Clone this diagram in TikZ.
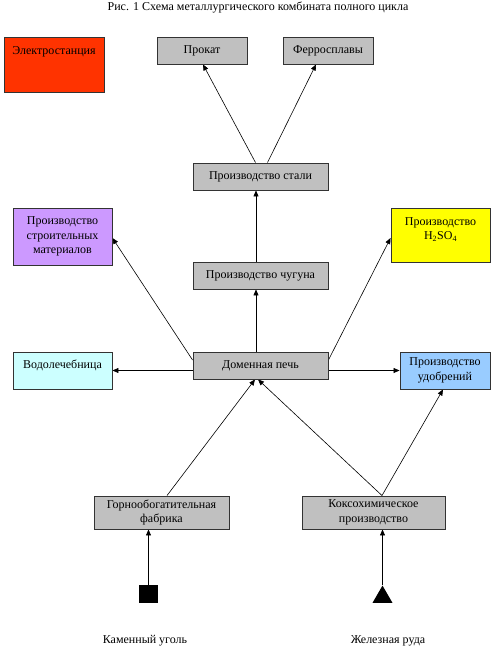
\documentclass[tikz,border=0pt]{standalone}
\usepackage{fontspec}
\setmainfont{Liberation Serif}
\usepackage{xcolor}
\usetikzlibrary{shapes.geometric,arrows.meta}
\definecolor{station}{HTML}{FF3300}
\definecolor{building}{HTML}{CC99FF}
\definecolor{acid}{HTML}{FFFF00}
\definecolor{spa}{HTML}{CCFFFF}
\definecolor{fertilizer}{HTML}{99CCFF}
\definecolor{process}{HTML}{C0C0C0}
\tikzstyle{box}=[fill=process, draw=black!80, line width=0.9pt, shape=rectangle, inner sep=0pt, align=center, font=\fontsize{12}{14.5}\selectfont]
\tikzstyle{inside}=[anchor=north, align=center, inner sep=0pt, yshift=-9.5pt, font=\fontsize{12}{14.5}\selectfont]
\tikzstyle{caption}=[font=\fontsize{12}{14}\selectfont, inner sep=0pt]
\tikzstyle{flow}=[-{Triangle[length=6pt, width=5pt]}, draw=black, line width=0.6pt]
\tikzstyle{coal}=[fill=black, shape=rectangle, minimum width=19, minimum height=18, inner sep=0pt]
\tikzstyle{ore}=[fill=black, shape=regular polygon, regular polygon sides=3, minimum size=23, inner sep=0pt]
\pgfdeclarelayer{nodelayer}
\pgfdeclarelayer{edgelayer}
\pgfsetlayers{edgelayer,nodelayer,main}
\begin{document}
\begin{tikzpicture}[x=1pt, y=-1pt]
	\useasboundingbox (0, 0) rectangle (497, 655);
	\begin{pgfonlayer}{nodelayer}
		\node [style=caption] (t) at (258, 8) {Рис. 1 Схема металлургического комбината полного цикла};
		\node [style=box, fill=station, minimum width=100, minimum height=55, label={[style=inside]north:Электростанция}] (0) at (54, 64.5) {};
		\node [style=box, minimum width=90, minimum height=27] (1) at (202, 50.5) {Прокат};
		\node [style=box, minimum width=90, minimum height=27] (2) at (328, 50.5) {Ферросплавы};
		\node [style=box, minimum width=135, minimum height=27] (3) at (260.5, 176.5) {Производство стали};
		\node [style=box, fill=building, minimum width=99, minimum height=57] (4) at (62.5, 236.5) {Производство\\строительных\\материалов};
		\node [style=box, fill=acid, minimum width=99, minimum height=54, label={[style=inside]north:Производство\\H\textsubscript{2}SO\textsubscript{4}}] (5) at (440.5, 235) {};
		\node [style=box, minimum width=135, minimum height=27] (6) at (260.5, 275.5) {Производство чугуна};
		\node [style=box, fill=spa, minimum width=99, minimum height=37, label={[style=inside, yshift=1.5pt]north:Водолечебница}] (7) at (62.5, 370.5) {};
		\node [style=box, minimum width=135, minimum height=27] (8) at (260.5, 365.5) {Доменная печь};
		\node [style=box, fill=fertilizer, minimum width=90, minimum height=37] (9) at (445, 370.5) {Производство\\удобрений};
		\node [style=box, minimum width=135, minimum height=33] (10) at (161.5, 512.5) {Горнообогатительная\\фабрика};
		\node [style=box, minimum width=143, minimum height=33] (11) at (373.5, 512.5) {Коксохимическое\\производство};
		\node [style=coal] (12) at (148.5, 594) {};
		\node [style=ore, anchor=south] (13) at (382.5, 603) {};
		\node [style=caption] (14) at (145, 641) {Каменный уголь};
		\node [style=caption] (15) at (388, 641) {Железная руда};
	\end{pgfonlayer}
	\begin{pgfonlayer}{edgelayer}
		\draw [style=flow] ([xshift=-5]3.north) to ([xshift=1]1.south);
		\draw [style=flow] ([xshift=7]3.north) to ([xshift=-12]2.south);
		\draw [style=flow] ([xshift=-4.5]6.north) to ([xshift=-4.5]3.south);
		\draw [style=flow] ([xshift=-4.5]8.north) to ([xshift=-4.5]6.south);
		\draw [style=flow] ([yshift=5.5]8.west) to ([yshift=-1.5]4.east);
		\draw [style=flow] ([yshift=5.5]8.east) to ([yshift=-3]5.west);
		\draw [style=flow] (8.west |- 7.east) to (7.east);
		\draw [style=flow] (8.east |- 9.west) to (9.west);
		\draw [style=flow] ([xshift=5.5]10.north) to ([xshift=-5.5]8.south);
		\draw [style=flow] ([xshift=8.5]11.north) to ([xshift=-2.5]8.south);
		\draw [style=flow] ([xshift=8.5]11.north) to ([xshift=-2]9.south);
		\draw [style=flow] (12.north) to (12.north |- 10.south);
		\draw [style=flow] (13.north) to (13.north |- 11.south);
	\end{pgfonlayer}
\end{tikzpicture}
\end{document}
